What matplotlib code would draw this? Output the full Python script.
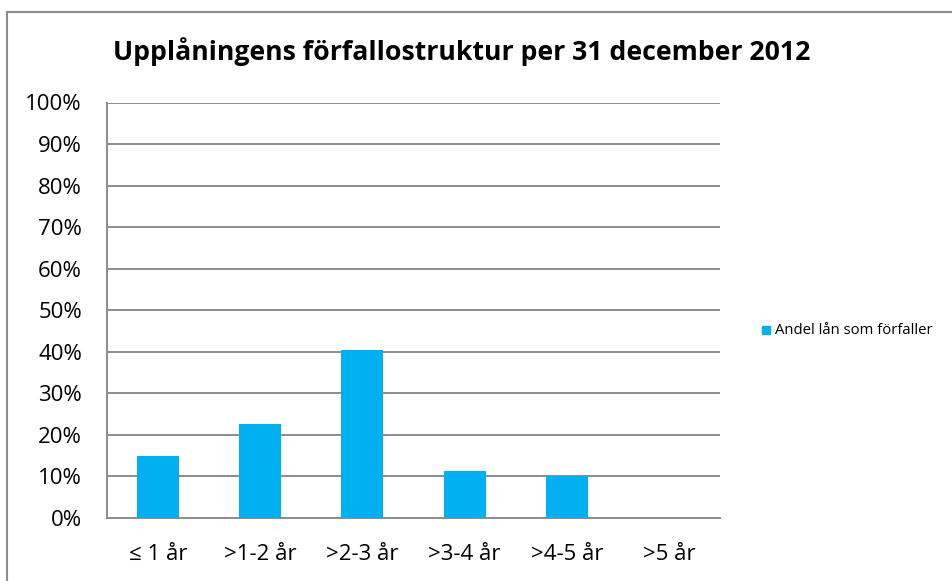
import matplotlib
matplotlib.use("Agg")
import matplotlib.pyplot as plt
from matplotlib.lines import Line2D
from matplotlib.patches import Rectangle

categories = ["≤ 1 år", ">1-2 år", ">2-3 år", ">3-4 år", ">4-5 år", ">5 år"]
values = [15.0, 22.7, 40.4, 11.2, 10.1, 0.0]
yticks = list(range(0, 101, 10))
ytick_labels = [f"{v}%" for v in yticks]
series_name = "Andel lån som förfaller"
title = "Upplåningens förfallostruktur per 31 december 2012"

W, H = 952, 581
fig = plt.figure(figsize=(W / 100, H / 100), dpi=100)
fig.patch.set_facecolor("white")

FONT = ["Open Sans", "DejaVu Sans"]
BAR = "#00B0F0"
GRID = "#8C8C8C"

# plot area: x 107..720, y 102.5..518
ax = fig.add_axes([107 / W, 1 - 518 / H, (720 - 107) / W, (518 - 102.5) / H])
x = list(range(len(categories)))
ax.bar(x, values, width=0.41, color=BAR, zorder=3)
ax.set_xlim(-0.5, len(categories) - 0.5)
ax.set_ylim(0, 100)
ax.set_yticks(yticks)
ax.set_yticklabels(ytick_labels, fontsize=16, family=FONT, color="#000000")
ax.set_xticks(x)
ax.set_xticklabels(categories, fontsize=16, family=FONT, color="#000000")
ax.yaxis.grid(True, color=GRID, linewidth=1.4, zorder=0)
ax.set_axisbelow(True)
for s in ["top", "right"]:
    ax.spines[s].set_visible(False)
for s in ["left", "bottom"]:
    ax.spines[s].set_color(GRID)
    ax.spines[s].set_linewidth(1.4)
ax.tick_params(axis="both", length=0)
ax.tick_params(axis="y", pad=18)
ax.tick_params(axis="x", pad=19)

fig.text(462 / W, 1 - 52 / H, title, ha="center", va="center",
         fontsize=19.2, fontweight="bold", family=FONT)

# legend
fig.patches.append(Rectangle((762 / W, 1 - 334 / H), 8 / W, 8 / H,
                             transform=fig.transFigure, color=BAR))
fig.text(775 / W, 1 - 330 / H, series_name, ha="left", va="center",
         fontsize=10.7, family=FONT)

# outer frame (partial)
fig.add_artist(Line2D([7 / W, 1], [1 - 11.5 / H, 1 - 11.5 / H],
                      transform=fig.transFigure, color=GRID, linewidth=1.5))
fig.add_artist(Line2D([7 / W, 7 / W], [0, 1 - 11.5 / H],
                      transform=fig.transFigure, color=GRID, linewidth=1.5))

fig.savefig("out.png", dpi=100)
